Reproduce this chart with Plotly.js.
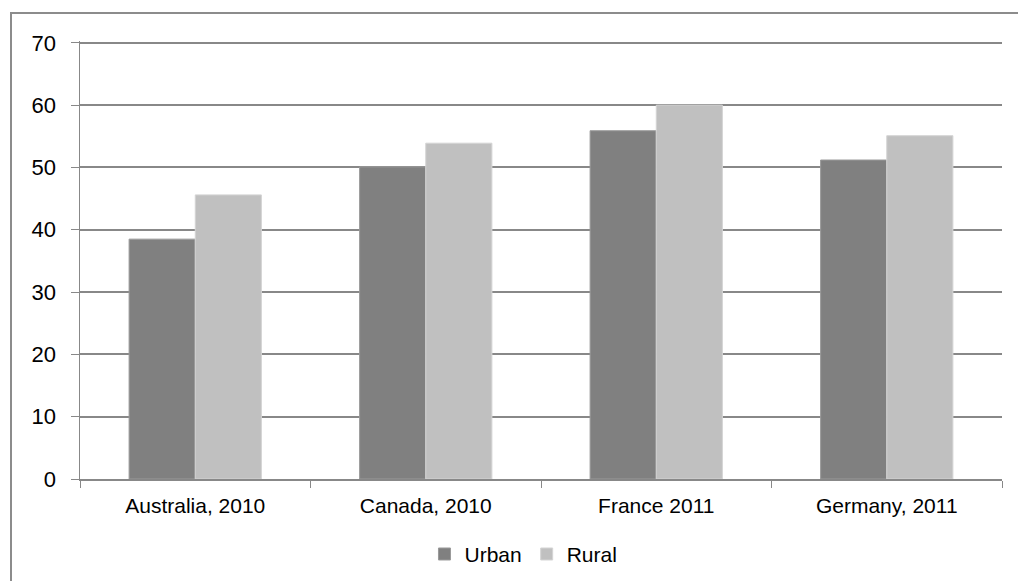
<!DOCTYPE html>
<html>
<head>
<meta charset="utf-8">
<script src="https://cdn.plot.ly/plotly-3.0.1.min.js"></script>
<style>
  html, body { margin: 0; padding: 0; background: #fff; overflow: hidden; }
  #chart { width: 1018px; height: 581px; }
  #frame { position: absolute; left: 10px; top: 12px; width: 1100px; height: 700px;
           border-left: 2px solid #8c8c8c; border-top: 2px solid #8c8c8c; pointer-events: none; }
</style>
</head>
<body>
<div id="chart"></div>
<div id="frame"></div>
<script>
const categories = ["Australia, 2010", "Canada, 2010", "France 2011", "Germany, 2011"];
const urban = [38.5, 50.1, 55.9, 51.2];
const rural = [45.6, 53.9, 60.0, 55.1];
const seriesNames = ["Urban", "Rural"];
const yTicks = [0, 10, 20, 30, 40, 50, 60, 70];

const traces = [
  { type: "bar", name: seriesNames[0], x: categories, y: urban,
    marker: { color: "#808080", line: { color: "#9a9a9a", width: 1 } }, hoverinfo: "x+y" },
  { type: "bar", name: seriesNames[1], x: categories, y: rural,
    marker: { color: "#c0c0c0", line: { color: "#d4d4d4", width: 1 } }, hoverinfo: "x+y" }
];

const layout = {
  width: 1018, height: 581,
  margin: { l: 80, r: 16, t: 41, b: 102, autoexpand: false },
  paper_bgcolor: "#ffffff", plot_bgcolor: "#ffffff",
  barmode: "group", bargap: 0.426, bargroupgap: 0,
  font: { family: "Liberation Sans, Arial, sans-serif", color: "#000000" },
  showlegend: true,
  legend: { orientation: "h", x: 0.481, xanchor: "center", y: -0.172, yanchor: "middle",
            font: { size: 21, family: "Liberation Sans, Arial, sans-serif" }, traceorder: "normal",
            itemwidth: 30 },
  xaxis: {
    type: "category", tickson: "boundaries", ticks: "outside", ticklen: 7, tickcolor: "#888888",
    showline: true, linecolor: "#888888", linewidth: 1.5, showgrid: false,
    tickfont: { size: 21, family: "Liberation Sans, Arial, sans-serif" }, zeroline: false,
    ticklabelstandoff: 7, automargin: false
  },
  yaxis: {
    range: [0, 70.3], tickvals: yTicks, ticks: "outside", ticklen: 8, tickcolor: "#888888",
    showline: true, linecolor: "#888888", linewidth: 1.5,
    showgrid: true, gridcolor: "#888888", gridwidth: 2, zeroline: false,
    tickfont: { size: 22, family: "Liberation Sans, Arial, sans-serif" }, ticklabelstandoff: 10,
    automargin: false
  }
};

Plotly.newPlot("chart", traces, layout, { displayModeBar: false, staticPlot: true });
</script>
</body>
</html>
